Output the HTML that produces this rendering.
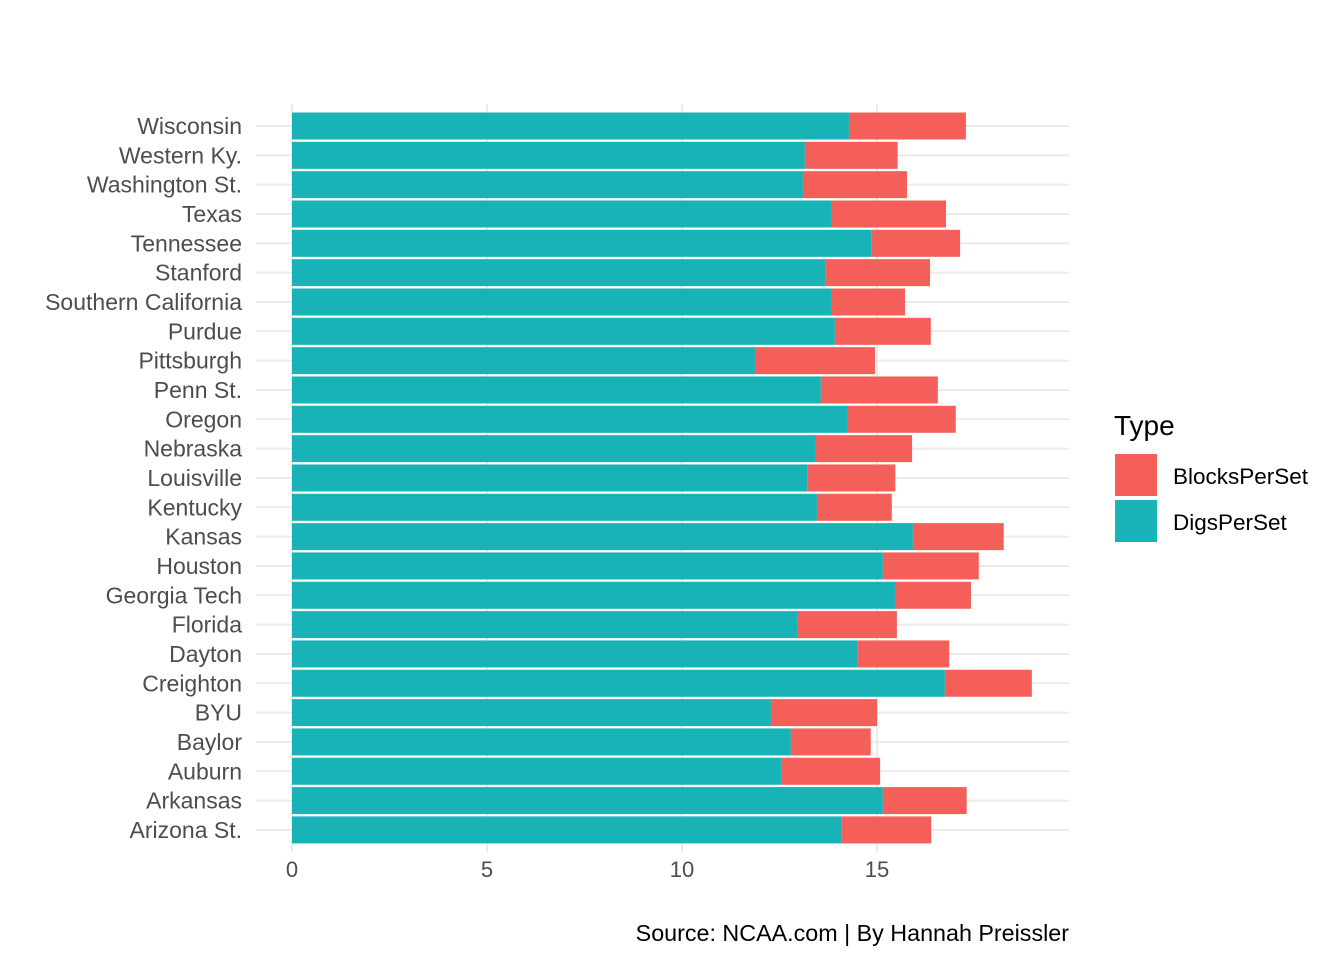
<!DOCTYPE html>
<html><head><meta charset="utf-8"><style>
body{margin:0;background:#fff;}
svg text{font-family:"Liberation Sans",sans-serif;}
</style></head><body>
<svg id="chart" width="1344" height="960">
<g id="grid"></g>
<g id="bars"></g>
<g id="ylabels"></g>
<g id="xlabels"></g>
<g>
<text x="1114" y="435" font-size="28" fill="#000">Type</text>
<rect x="1115" y="454" width="42" height="42" fill="#F45F5A"/>
<text x="1173" y="484" font-size="22.5" fill="#000">BlocksPerSet</text>
<rect x="1115" y="500" width="42" height="42" fill="#17B3B7"/>
<text x="1173" y="530" font-size="22.5" fill="#000">DigsPerSet</text>
</g>
<text x="1069" y="941" font-size="23.3" text-anchor="end" fill="#000">Source: NCAA.com | By Hannah Preissler</text>
</svg>
<script>
const teams=["Wisconsin","Western Ky.","Washington St.","Texas","Tennessee","Stanford","Southern California","Purdue","Pittsburgh","Penn St.","Oregon","Nebraska","Louisville","Kentucky","Kansas","Houston","Georgia Tech","Florida","Dayton","Creighton","BYU","Baylor","Auburn","Arkansas","Arizona St."];
const digs=[14.28,13.15,13.10,13.82,14.85,13.67,13.82,13.92,11.87,13.56,14.23,13.41,13.21,13.46,15.92,15.15,15.46,12.95,14.49,16.74,12.28,12.79,12.54,15.15,14.08];
const blocks=[3.0,2.38,2.67,2.95,2.28,2.69,1.90,2.46,3.08,3.0,2.79,2.49,2.26,1.92,2.33,2.46,1.95,2.56,2.36,2.23,2.72,2.05,2.54,2.15,2.31];
const xTicks=[0,5,10,15];
const NS="http://www.w3.org/2000/svg";
const x=v=>292+v*39;
const y=i=>126+i*29.33;
function mk(tag,attrs,parent){const e=document.createElementNS(NS,tag);for(const k in attrs)e.setAttribute(k,attrs[k]);document.getElementById(parent).appendChild(e);return e;}
xTicks.forEach(t=>{
 const l=mk("line",{x1:x(t),x2:x(t),y1:104,y2:852,stroke:"#ebebeb","stroke-width":2},"grid");
 
 
 const tx=mk("text",{x:x(t),y:877,"font-size":22,fill:"#4d4d4d","text-anchor":"middle"},"xlabels");
 tx.textContent=t;
 
 
});
teams.forEach((n,i)=>{
 const g=mk("line",{x1:256,x2:1069,y1:y(i),y2:y(i),stroke:"#ebebeb","stroke-width":2},"grid");
 
 
 const d=mk("rect",{x:x(0),y:y(i)-13.5,width:x(digs[i])-x(0),height:27,fill:"#17B3B7"},"bars");
 
 
 const b=mk("rect",{x:x(digs[i]),y:y(i)-13.5,width:x(digs[i]+blocks[i])-x(digs[i]),height:27,fill:"#F45F5A"},"bars");
 
 
 const t=mk("text",{x:242,y:y(i)+8,"font-size":23,fill:"#4d4d4d","text-anchor":"end"},"ylabels");
 t.textContent=n;
 
 
});
</script>
</body></html>
